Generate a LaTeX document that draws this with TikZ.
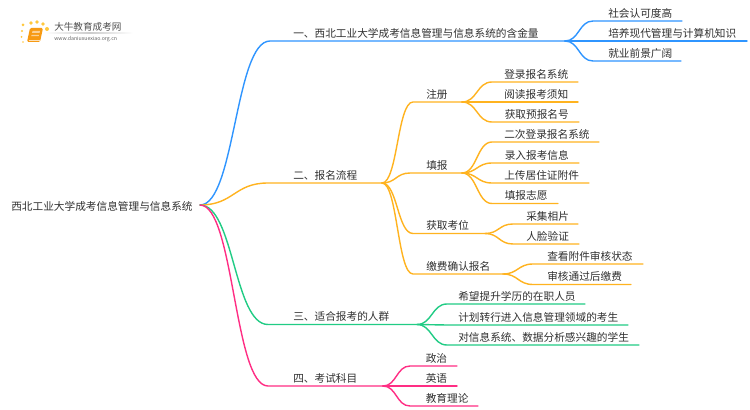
\documentclass[tikz,border=0pt]{standalone}
\usepackage{fontspec}
\setmainfont{Noto Sans CJK SC}
\usetikzlibrary{calc}
\definecolor{cblue}{HTML}{2F95FF}
\definecolor{corange}{HTML}{FFB31F}
\definecolor{cgreen}{HTML}{21CC85}
\definecolor{cpink}{HTML}{FF2E84}
\definecolor{ctext}{HTML}{303030}
\definecolor{cdot}{HTML}{FFC83D}
\definecolor{cbook}{HTML}{F79A12}
\tikzset{
  lbl/.style={anchor=west,inner sep=0pt,font=\fontsize{8}{8}\selectfont,text=ctext},
  branchline/.style={line width=1.05pt,line cap=round,line join=round},
  logodot/.style={circle,fill=cdot,inner sep=0pt},
}
% name, parent, colour, x where flat part starts, y of line, x of line end, x of text, text
\newcommand{\mmtopic}[8]{%
  \coordinate (#1-b) at (#4,#5);
  \coordinate (#1-e) at (#6,#5);
  \coordinate (#1-m) at ($(#2-e)!.5!(#1-b)$);
  \draw[branchline,#3] (#2-e) .. controls (#1-m |- #2-e) and (#1-m |- #1-b) .. (#1-b) -- (#1-e);
  \node[lbl] (#1) at (#7,#5-7.8) {#8};
}
\begin{document}
\begin{tikzpicture}[x=0.75pt,y=-0.75pt]
\useasboundingbox (0,0) rectangle (750,410);
\fill[white] (0,0) rectangle (750,410);
% logo
\foreach \n/\a/\b/\s in {a/23/25/3,b/31/23/3.6,c/37/22/3.6,d/43/24/3.6,e/47/29/4,f/22/31/2.4,g/21.5/37/2,h/23/42/1.8}
  \node[logodot,minimum size=\s*0.75pt] (dot\n) at (\a,\b) {};
\fill[cbook,rounded corners=1pt] (30,28) -- (43,28) -- (40,42) -- (27,42) -- cycle;
\fill[white,opacity=.55] (32.5,31) -- (40,31) -- (39.5,33) -- (32,33) -- cycle;
\fill[white,opacity=.55] (31.5,35) -- (39,35) -- (38.6,36.2) -- (31.2,36.2) -- cycle;
\draw[white,line width=.4pt,opacity=.7] (28.5,40) -- (39.5,40);
\node[anchor=west,inner sep=0pt,font=\fontsize{7.2}{7.2}\selectfont,text=ctext!85] (logotitle) at (54,27) {大牛教育成考网};
\node[anchor=west,inner sep=0pt,font=\fontsize{3.9}{4}\selectfont,text=ctext!75] (logourl) at (54,39) {www.daniuxuexiao.org.cn};
\coordinate (logoa) at (45,33);
\coordinate (logob) at (90,33);
\coordinate (logoc) at (133,33);
\shade[left color=white,right color=black!20] (logoa) rectangle ($(logob)+(0,.8)$);
\shade[left color=black!20,right color=white] (logob) rectangle ($(logoc)+(0,.8)$);
% root
\coordinate (root-e) at (200,205);
\node[lbl] (root) at (11,206) {西北工业大学成考信息管理与信息系统};
% one
\mmtopic{a}{root}{cblue}{270}{41}{565}{293}{一、西北工业大学成考信息管理与信息系统的含金量}
\mmtopic{a1}{a}{cblue}{593}{21}{682}{608}{社会认可度高}
\mmtopic{a2}{a}{cblue}{593}{41}{747}{608}{培养现代管理与计算机知识}
\mmtopic{a3}{a}{cblue}{593}{61}{681}{608}{就业前景广阔}
% two
\mmtopic{b}{root}{corange}{268}{183}{382}{293}{二、报名流程}
\mmtopic{b1}{b}{corange}{413}{102}{462}{426}{注册}
\mmtopic{b11}{b1}{corange}{492}{82}{578}{504}{登录报名系统}
\mmtopic{b12}{b1}{corange}{492}{102}{578}{504}{阅读报考须知}
\mmtopic{b13}{b1}{corange}{492}{122}{579}{504.5}{获取预报名号}
\mmtopic{b2}{b}{corange}{410}{173}{462}{426}{填报}
\mmtopic{b21}{b2}{corange}{492}{142}{599}{504}{二次登录报名系统}
\mmtopic{b22}{b2}{corange}{492}{163}{579}{504.5}{录入报考信息}
\mmtopic{b23}{b2}{corange}{492}{183}{589}{504}{上传居住证附件}
\mmtopic{b24}{b2}{corange}{492}{203.5}{558}{504.5}{填报志愿}
\mmtopic{b3}{b}{corange}{413}{233.5}{485}{426}{获取考位}
\mmtopic{b31}{b3}{corange}{513}{224}{578}{526}{采集相片}
\mmtopic{b32}{b3}{corange}{513}{244}{579}{526}{人脸验证}
\mmtopic{b4}{b}{corange}{413}{274}{503}{426}{缴费确认报名}
\mmtopic{b41}{b4}{corange}{533}{264}{643}{547}{查看附件审核状态}
\mmtopic{b42}{b4}{corange}{533}{284.5}{631}{547}{审核通过后缴费}
% three
\mmtopic{c}{root}{cgreen}{268}{324.5}{417}{293}{三、适合报考的人群}
\mmtopic{c1}{c}{cgreen}{447}{304}{585}{458}{希望提升学历的在职人员}
\mmtopic{c2}{c}{cgreen}{447}{325}{628}{458}{计划转行进入信息管理领域的考生}
\mmtopic{c3}{c}{cgreen}{447}{345}{639}{458}{对信息系统、数据分析感兴趣的学生}
% four
\mmtopic{d}{root}{cpink}{268}{386}{383}{293}{四、考试科目}
\mmtopic{d1}{d}{cpink}{410}{366}{457}{425.5}{政治}
\mmtopic{d2}{d}{cpink}{410}{386}{457}{425.5}{英语}
\mmtopic{d3}{d}{cpink}{410}{406}{478}{425.5}{教育理论}
\end{tikzpicture}
\end{document}
